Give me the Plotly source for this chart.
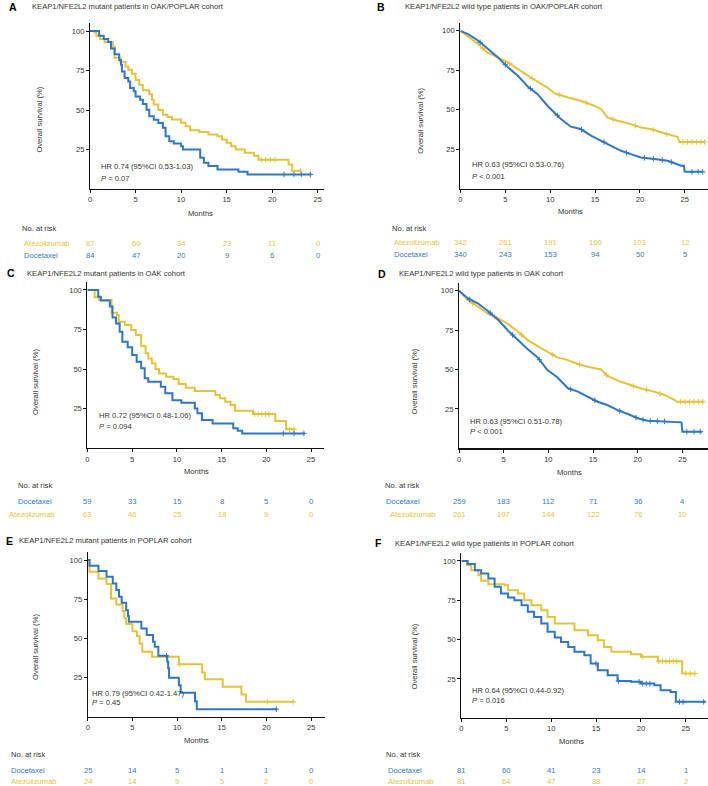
import numpy as np
import plotly.graph_objects as go

W, H = 708, 786
GOLD = "#E5C23A"
BLUE = "#2F77C6"
TXT = "#333333"
FONT = "Liberation Sans, Arial, sans-serif"

# ---------------- data ----------------
ticks_x = [0, 5, 10, 15, 20, 25]
ticks_y = [25, 50, 75, 100]

# Panel A: mutant, OAK/POPLAR
a_atez_t = [0, 0.5, 0.7, 1.1, 1.6, 2.5, 2.7, 3.3, 3.9, 4.2, 4.6, 5.0, 5.4, 5.8, 6.5, 6.8, 7.0, 7.5, 8.0, 8.5, 9.0, 10.0, 10.5, 11.0, 12.0, 13.0, 14.0, 14.5, 15.0, 15.5, 16.0, 17.0, 18.0, 18.5, 21.8, 22.2, 23.2]
a_atez_s = [100, 99, 97, 95, 93, 90, 83, 80.5, 77.5, 75.5, 73, 69, 66, 62.5, 60, 56.5, 53.5, 50, 47, 45.5, 44, 42, 39.7, 37.2, 36, 34.5, 33.4, 31.3, 29.2, 27.1, 25, 23, 21, 18.5, 15.5, 11.5, 11.5]
a_atez_c = [18.8, 19.3, 19.8, 20.3, 23.1]
a_doc_t = [0, 1.0, 1.5, 2.0, 2.3, 2.7, 3.2, 3.4, 3.5, 3.8, 4.2, 4.4, 4.8, 5.0, 5.5, 5.8, 6.2, 6.5, 7.0, 7.5, 8.0, 8.3, 8.7, 9.2, 10.0, 10.2, 12.1, 12.5, 13.0, 14.0, 16.3, 17.3, 24.3]
a_doc_s = [100, 97, 95, 93, 89, 85.3, 81.7, 78.6, 74.4, 70.2, 68, 64, 61.8, 58.6, 56.5, 53.8, 50.2, 46, 43.9, 41.8, 38.7, 33.4, 30.3, 28.8, 27.1, 25, 19.7, 16.6, 14.5, 12.4, 10.9, 9.2, 9.2]
a_doc_c = [21.3, 22.4, 23.2, 24.2]
a_risk_atez = [87, 60, 34, 23, 11, 0]
a_risk_doc = [84, 47, 20, 9, 6, 0]

# Panel B: wild type, OAK/POPLAR
b_atez_t = [0, 1.2, 2.0, 3.0, 4.2, 5.3, 6.4, 7.5, 8.6, 9.7, 10.5, 12.0, 13.4, 14.9, 15.7, 16.4, 17.5, 19.0, 20.1, 21.2, 22.3, 23.4, 24.2, 24.4, 27.3]
b_atez_s = [100, 95.1, 91.5, 86.3, 83, 80, 75.7, 71.5, 67.7, 64, 60.3, 57.7, 55.6, 52.5, 50.3, 45, 43, 40.8, 38.7, 37.7, 35.6, 33.9, 32.8, 29.5, 29.5]
b_atez_c = [2.5, 5.5, 8.0, 11.0, 14.0, 17.0, 19.5, 21.5, 23.0, 24.8, 25.3, 25.8, 26.3, 26.8, 27.2]
b_doc_t = [0, 0.85, 2.0, 3.1, 4.2, 5.3, 6.4, 7.5, 8.6, 9.7, 10.5, 11.2, 12.3, 13.4, 14.6, 15.7, 16.8, 17.9, 19.0, 20.1, 21.6, 23.1, 24.6, 24.9, 25.0, 27.0]
b_doc_s = [100, 97.9, 93.7, 88.4, 83, 76.8, 71.5, 64.7, 59.8, 52.5, 48.2, 44, 39.2, 37.7, 33.4, 30.3, 27.1, 23.9, 21.8, 19.7, 18.7, 17.6, 14.4, 14.4, 10.6, 10.6]
b_doc_c = [2.2, 5.0, 7.8, 10.8, 13.5, 16.0, 18.5, 20.5, 21.5, 22.5, 23.5, 25.8, 26.5, 27.0]
b_risk_atez = [342, 261, 191, 160, 103, 12]
b_risk_doc = [340, 243, 153, 94, 50, 5]

# Panel C: mutant, OAK
c_atez_t = [0, 0.8, 1.3, 2.7, 3.3, 3.5, 4.2, 4.9, 5.4, 6.0, 6.5, 6.8, 7.2, 7.6, 8.0, 8.8, 9.6, 10.2, 11.0, 12.0, 14.3, 14.8, 15.4, 16.0, 16.5, 18.5, 21.0, 22.2, 23.2]
c_atez_s = [100, 95.4, 93.7, 85.7, 84.2, 80, 77.9, 74.7, 71.6, 64.6, 60, 56.8, 53.7, 50.1, 47.3, 45.2, 43.8, 40.6, 38.3, 36.2, 33.6, 31.6, 29.4, 27.3, 23.7, 21.6, 17.2, 12, 12]
c_atez_c = [18.7, 19.1, 19.5, 19.9, 20.3, 22.6, 23.1]
c_doc_t = [0, 1.2, 1.5, 2.5, 2.8, 3.2, 3.6, 3.9, 4.5, 5.0, 5.5, 6.0, 6.4, 6.8, 8.2, 8.7, 9.5, 10.5, 12.0, 12.3, 12.8, 14.0, 16.3, 16.8, 17.3, 24.3]
c_doc_s = [100, 95.8, 93.3, 89.5, 82.7, 78.9, 73.7, 67.3, 63.8, 58.9, 54.7, 50.5, 44.2, 42.1, 38.9, 34.7, 30.4, 28.8, 25.2, 22.1, 17.8, 15.7, 12.6, 11.1, 9.4, 9.4]
c_doc_c = [21.9, 23.1, 24.2]
c_risk_doc = [59, 33, 15, 8, 5, 0]
c_risk_atez = [63, 46, 25, 18, 9, 0]

# Panel D: wild type, OAK
d_atez_t = [0, 1.0, 2.1, 3.2, 4.4, 5.5, 6.6, 7.7, 8.8, 9.9, 11.0, 12.2, 13.3, 14.4, 15.9, 16.6, 18.1, 19.2, 20.3, 21.8, 23.0, 24.1, 24.4, 27.4]
d_atez_s = [100, 94, 89.9, 85.6, 82.5, 78.9, 74, 68.7, 64.9, 61.3, 57.7, 56, 53.5, 51.8, 50.1, 45.9, 42.3, 40.2, 38.1, 36, 33.9, 30.7, 29.6, 29.6]
d_atez_c = [1.5, 4.0, 7.0, 10.5, 13.5, 16.5, 19.5, 21.0, 22.5, 24.8, 25.3, 25.8, 26.3, 26.8, 27.3]
d_doc_t = [0, 1.0, 2.1, 3.2, 4.4, 5.5, 6.6, 7.7, 8.8, 9.9, 11.0, 12.2, 13.3, 14.4, 15.5, 16.6, 17.7, 18.9, 20.0, 21.1, 23.7, 24.9, 25.0, 27.2]
d_doc_s = [100, 95.1, 92, 87.3, 81.4, 74.6, 68.7, 62.8, 57.7, 49.7, 45.1, 38.1, 36, 32.8, 29.6, 27.5, 24.4, 21.8, 19.1, 17.6, 17, 16.5, 10.6, 10.6]
d_doc_c = [1.2, 3.5, 6.0, 9.0, 12.5, 15.2, 18.0, 19.8, 20.6, 21.4, 22.2, 23.0, 25.5, 26.3, 27.0]
d_risk_doc = [259, 183, 112, 71, 36, 4]
d_risk_atez = [261, 197, 144, 122, 76, 10]

# Panel E: mutant, POPLAR
e_doc_t = [0, 0.2, 1.2, 2.1, 2.8, 3.2, 3.5, 3.8, 4.3, 4.5, 4.6, 6.0, 6.6, 7.3, 7.5, 7.9, 8.9, 9.0, 9.1, 10.2, 10.4, 12.0, 12.2, 21.2]
e_doc_s = [100, 96.4, 93, 89.4, 85.1, 80.9, 76.6, 72.8, 68.1, 64.3, 60.7, 56.4, 52.2, 48, 44.8, 39, 35.2, 31, 25, 20.3, 15.4, 10, 5, 5]
e_doc_c = [8.8, 21.1]
e_atez_t = [0, 0.2, 1.2, 2.1, 2.6, 3.2, 3.9, 4.1, 4.3, 5.0, 5.5, 5.8, 6.1, 7.2, 10.2, 12.8, 13.1, 15.1, 17.2, 17.7, 23.1]
e_atez_s = [100, 92.6, 88.3, 84.7, 75.6, 71.7, 67.5, 63, 59.2, 54.7, 51.6, 46.9, 41.6, 38.4, 33.7, 28.4, 24, 19.3, 14.4, 9.7, 9.7]
e_atez_c = [10.3, 20.1, 23.0]
e_risk_doc = [25, 14, 5, 1, 1, 0]
e_risk_atez = [24, 14, 9, 5, 2, 0]

# Panel F: wild type, POPLAR
f_doc_t = [0, 0.7, 1.5, 2.2, 3.0, 3.7, 4.4, 5.2, 5.9, 6.7, 7.4, 8.1, 8.9, 9.6, 10.4, 11.1, 11.9, 12.6, 13.7, 14.4, 15.2, 16.3, 17.4, 18.9, 20.0, 21.5, 22.2, 23.3, 23.9, 27.2]
f_doc_s = [100, 98, 94, 92, 88.8, 83.5, 79.2, 76.7, 75, 71.8, 67.6, 64.4, 60.2, 54.9, 51.3, 48.5, 45.3, 42.2, 40, 34.7, 30.5, 27.3, 23.7, 23.1, 22, 21, 17.8, 16.7, 10.4, 10.4]
f_doc_c = [15.0, 17.5, 19.8, 20.2, 20.6, 21.0, 24.3, 24.7, 27.0]
f_atez_t = [0, 0.6, 1.1, 1.9, 2.2, 3.0, 4.8, 5.2, 6.3, 7.0, 7.8, 8.9, 9.6, 10.4, 12.6, 14.1, 15.2, 15.9, 16.7, 18.9, 20.0, 21.9, 24.6, 26.1]
f_atez_s = [100, 97.2, 94, 90.9, 87.3, 85.2, 84.5, 81.4, 79.2, 75, 71.8, 68.6, 64.4, 60.2, 55.9, 52.8, 49.6, 45.3, 42.2, 40.7, 39, 36.2, 28.4, 28.4]
f_atez_c = [20.2, 22.0, 22.4, 22.8, 23.2, 23.6, 24.0, 25.0, 25.5, 26.0]
f_risk_doc = [81, 60, 41, 23, 14, 1]
f_risk_atez = [81, 64, 47, 38, 27, 2]

# ---------------- layout of panels (pixel geometry) ----------------
panels = [
    dict(letter="A", title="KEAP1/NFE2L2 mutant patients in OAK/POPLAR cohort",
         letter_xy=(5.5, 7), title_xy=(28, 7), x0=88.3, xppu=9.13, xmax=25.7, y0=189, yppu=1.58,
         shape="hv",
         curves=[(a_atez_t, a_atez_s, a_atez_c, GOLD), (a_doc_t, a_doc_s, a_doc_c, BLUE)],
         hr="HR 0.74 (95%CI 0.53-1.03)", p="<i>P</i> = 0.07", hr_xy=(97.5, 166.5), p_xy=(97.5, 178.3),
         ytitle_xy=(36.7, 120), months_xy=(199, 213), nrisk_xy=(18.3, 228),
         rows=[("Atezolizumab", a_risk_atez, GOLD, 20, 243.3), ("Docetaxel", a_risk_doc, BLUE, 20, 255)]),
    dict(letter="B", title="KEAP1/NFE2L2 wild type patients in OAK/POPLAR cohort",
         letter_xy=(374, 7), title_xy=(402.5, 7), x0=459.7, xppu=9.0, xmax=27.6, y0=188.5, yppu=1.577,
         shape="linear",
         curves=[(b_atez_t, b_atez_s, b_atez_c, GOLD), (b_doc_t, b_doc_s, b_doc_c, BLUE)],
         hr="HR 0.63 (95%CI 0.53-0.76)", p="<i>P</i> < 0.001", hr_xy=(469.5, 165), p_xy=(469.5, 176.7),
         ytitle_xy=(419, 121), months_xy=(570.5, 211.7), nrisk_xy=(389, 228),
         rows=[("Atezolizumab", b_risk_atez, GOLD, 390.7, 242.7), ("Docetaxel", b_risk_doc, BLUE, 390.7, 254.3)]),
    dict(letter="C", title="KEAP1/NFE2L2 mutant patients in OAK cohort",
         letter_xy=(3.3, 273.3), title_xy=(23.3, 273.3), x0=85.7, xppu=8.97, xmax=26.5, y0=448.3, yppu=1.583,
         shape="hv",
         curves=[(c_atez_t, c_atez_s, c_atez_c, GOLD), (c_doc_t, c_doc_s, c_doc_c, BLUE)],
         hr="HR 0.72 (95%CI 0.48-1.06)", p="<i>P</i> = 0.094", hr_xy=(95, 416), p_xy=(95, 426.7),
         ytitle_xy=(33.3, 381.7), months_xy=(195, 471.7), nrisk_xy=(14, 485.3),
         rows=[("Docetaxel", c_risk_doc, BLUE, 14, 501.7), ("Atezolizumab", c_risk_atez, GOLD, 5, 514.7)]),
    dict(letter="D", title="KEAP1/NFE2L2 wild type patients in OAK cohort",
         letter_xy=(375, 274), title_xy=(395.7, 274), x0=458.3, xppu=8.96, xmax=27.9, y0=448.4, yppu=1.577,
         shape="linear",
         curves=[(d_atez_t, d_atez_s, d_atez_c, GOLD), (d_doc_t, d_doc_s, d_doc_c, BLUE)],
         hr="HR 0.63 (95%CI 0.51-0.78)", p="<i>P</i> < 0.001", hr_xy=(467.3, 421.7), p_xy=(467.3, 431.7),
         ytitle_xy=(414, 381.7), months_xy=(569, 472.3), nrisk_xy=(382.3, 485.3),
         rows=[("Docetaxel", d_risk_doc, BLUE, 383.3, 501.7), ("Atezolizumab", d_risk_atez, GOLD, 387.3, 514)]),
    dict(letter="E", title="KEAP1/NFE2L2 mutant patients in POPLAR cohort",
         letter_xy=(1.7, 540.7), title_xy=(15, 540.7), x0=86, xppu=8.96, xmax=26.6, y0=717, yppu=1.569,
         shape="hv",
         curves=[(e_atez_t, e_atez_s, e_atez_c, GOLD), (e_doc_t, e_doc_s, e_doc_c, BLUE)],
         hr="HR 0.79 (95%CI 0.42-1.47)", p="<i>P</i> = 0.45", hr_xy=(88.3, 693.3), p_xy=(88.3, 702.7),
         ytitle_xy=(33.3, 646.7), months_xy=(195, 740.7), nrisk_xy=(6.7, 754),
         rows=[("Docetaxel", e_risk_doc, BLUE, 7.3, 770), ("Atezolizumab", e_risk_atez, GOLD, 7.3, 781.5)]),
    dict(letter="F", title="KEAP1/NFE2L2 wild type patients in POPLAR cohort",
         letter_xy=(371.7, 543.3), title_xy=(392.3, 543.3), x0=460.7, xppu=9.0, xmax=27.5, y0=718.2, yppu=1.573,
         shape="hv",
         curves=[(f_atez_t, f_atez_s, f_atez_c, GOLD), (f_doc_t, f_doc_s, f_doc_c, BLUE)],
         hr="HR 0.64 (95%CI 0.44-0.92)", p="<i>P</i> = 0.016", hr_xy=(469, 690), p_xy=(469, 700),
         ytitle_xy=(414, 656.7), months_xy=(570.7, 741), nrisk_xy=(383.3, 754),
         rows=[("Docetaxel", f_risk_doc, BLUE, 384.7, 770), ("Atezolizumab", f_risk_atez, GOLD, 384.7, 781.5)]),
]

YMAX = 105


def px(x):
    return x / W


def py(y):
    return 1 - y / H


def surv_at(t, s, c, shape):
    t = np.asarray(t, float)
    s = np.asarray(s, float)
    c = np.asarray(c, float)
    if shape == "linear":
        return np.interp(c, t, s)
    idx = np.searchsorted(t, c, side="right") - 1
    return s[np.clip(idx, 0, len(s) - 1)]


fig = go.Figure()
annotations = []
layout_axes = {}

for i, p in enumerate(panels, start=1):
    xa = "x" if i == 1 else f"x{i}"
    ya = "y" if i == 1 else f"y{i}"
    xkey = "xaxis" if i == 1 else f"xaxis{i}"
    ykey = "yaxis" if i == 1 else f"yaxis{i}"
    xr = min(p["x0"] + p["xmax"] * p["xppu"], W)
    xmax = (xr - p["x0"]) / p["xppu"]
    ytop = p["y0"] - YMAX * p["yppu"]
    common = dict(showline=True, linecolor="#111111", linewidth=1.1, ticks="outside", ticklen=3,
                  tickcolor="#111111", tickwidth=1, showgrid=False, zeroline=False,
                  tickfont=dict(family=FONT, size=7.6, color=TXT), fixedrange=True)
    layout_axes[xkey] = dict(common, domain=[px(p["x0"]), px(xr)], range=[0, xmax],
                             tickmode="array", tickvals=ticks_x, anchor=ya)
    layout_axes[ykey] = dict(common, domain=[py(p["y0"]), py(ytop)], range=[0, YMAX],
                             tickmode="array", tickvals=ticks_y, anchor=xa)

    for (t, s, c, col) in p["curves"]:
        fig.add_trace(go.Scatter(x=t, y=s, mode="lines", line=dict(color=col, width=2, shape=p["shape"]),
                                 xaxis=xa, yaxis=ya, showlegend=False, hoverinfo="skip"))
        cy = surv_at(t, s, c, p["shape"])
        fig.add_trace(go.Scatter(x=c, y=cy, mode="markers",
                                 marker=dict(symbol="cross-thin", size=4, line=dict(color=col, width=1)),
                                 xaxis=xa, yaxis=ya, showlegend=False, hoverinfo="skip"))

    def ann(text, x, y, size=7.6, color=TXT, xanchor="left", **kw):
        annotations.append(dict(text=text, x=px(x), y=py(y), xref="paper", yref="paper", showarrow=False,
                                xanchor=xanchor, yanchor="middle", font=dict(family=FONT, size=size, color=color), **kw))

    ann(f"<b>{p['letter']}</b>", *p["letter_xy"], size=10.5, color="#000000")
    ann(p["title"], *p["title_xy"], size=7.6)
    ann(p["hr"], *p["hr_xy"], size=7.6)
    ann(p["p"], *p["p_xy"], size=7.6)
    ann("Overall survival (%)", *p["ytitle_xy"], size=7.6, xanchor="center", textangle=-90)
    ann("Months", *p["months_xy"], size=7.6, xanchor="center")
    ann("No. at risk", *p["nrisk_xy"], size=7.6)
    for (name, vals, col, lx, ly) in p["rows"]:
        ann(name, lx, ly, size=7.6, color=col)
        for tx, v in zip(ticks_x, vals):
            annotations.append(dict(text=str(v), x=tx, y=py(ly), xref=xa, yref="paper", showarrow=False,
                                    xanchor="center", yanchor="middle",
                                    font=dict(family=FONT, size=7.6, color=col)))

fig.update_layout(width=W, height=H, margin=dict(l=0, r=0, t=0, b=0), autosize=False,
                  paper_bgcolor="white", plot_bgcolor="white", showlegend=False,
                  annotations=annotations, **layout_axes)

fig.write_html("out.html", config={"displayModeBar": False, "staticPlot": True},
               post_script="document.body.style.margin='0px';document.body.style.padding='0px';")
